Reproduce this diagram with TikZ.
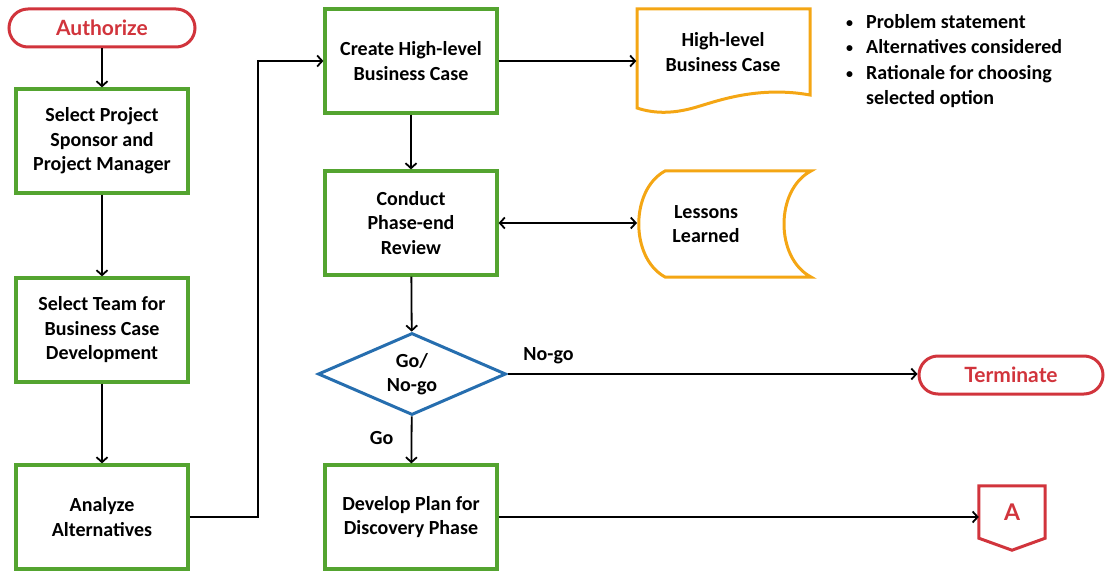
\documentclass[tikz,border=0pt]{standalone}
\usepackage{fontspec}
\setmainfont{Carlito}
\newfontfamily\termfont{Lato}
\usetikzlibrary{arrows.meta,shapes.geometric,calc}
\definecolor{boxgreen}{RGB}{84,164,48}
\definecolor{termred}{RGB}{209,52,60}
\definecolor{docorange}{RGB}{244,166,20}
\definecolor{decblue}{RGB}{38,110,175}
\begin{document}
\begin{tikzpicture}[x=1pt,y=-1pt,
  txt/.style={font=\fontsize{20}{24.5}\selectfont\bfseries, align=center, text=black},
  stepbox/.style={txt, draw=boxgreen, line width=3.2pt, minimum width=172pt, minimum height=104pt, inner sep=0pt},
  term/.style={draw=termred, line width=3pt, text=termred, font=\termfont\fontsize{21}{24}\selectfont\bfseries, rounded corners=19pt, minimum height=38pt, inner sep=0pt},
  decision/.style={txt, diamond, draw=decblue, line width=3pt, aspect=2.3, minimum width=188pt, minimum height=82pt, inner sep=0pt},
  conn/.style={line width=1.8pt, -{Straight Barb[length=5pt,width=11pt,line width=1.8pt]}},
  lbl/.style={txt}
]
\useasboundingbox (0,0) rectangle (1106,572);
% terminators
\node[term, minimum width=186pt] (auth) at (102,28) {Authorize};
\node[term, minimum width=184pt] (termn) at (1011,375) {Terminate};
% process boxes
\node[stepbox] (b1) at (102,141) {Select Project\\Sponsor and\\Project Manager};
\node[stepbox] (b2) at (102,330) {Select Team for\\Business Case\\Development};
\node[stepbox] (b3) at (102,517) {Analyze\\Alternatives};
\node[stepbox] (b4) at (411,61) {Create High-level\\Business Case};
\node[stepbox] (b5) at (411,223) {Conduct\\Phase-end\\Review};
\node[decision] (dec) at (412,374) {Go/\\No-go};
\node[stepbox] (b6) at (411,517) {Develop Plan for\\Discovery Phase};
% document
\node[txt, minimum width=173pt, minimum height=80pt, inner sep=0pt] (doc) at (723,52) {High-level\\Business Case};
\draw[docorange, line width=3pt, line join=miter]
  (637,96) -- (637,9) -- (810,9) -- (810,95)
  .. controls (760,86) and (720,100) .. (700,106)
  .. controls (675,114) and (655,114) .. (637,108) -- cycle;
% stored data
\node[txt, minimum width=120pt, minimum height=80pt, inner sep=0pt] (store) at (706,224) {Lessons\\Learned};
\draw[docorange, line width=3pt]
  (665,171) -- (811,171)
  .. controls (775,190) and (775,258) .. (811,277)
  -- (665,277)
  .. controls (630,258) and (630,190) .. cycle;
\coordinate (storeW) at (637,223);
% off-page connector A
\node[font=\termfont\fontsize{23}{26}\selectfont\bfseries, text=termred, minimum width=66pt, minimum height=52pt, inner sep=0pt] (A) at (1012,512) {A};
\draw[termred, line width=3pt, line join=miter]
  (A.north west) -- (A.north east) -- (A.south east) -- ($(A.south)+(0,12)$) -- (A.south west) -- cycle;
% bullets
\node[txt, align=left, anchor=north west, inner sep=0pt, font=\fontsize{20}{25.5}\selectfont\bfseries] (notes) at (846,14) {%
  \makebox[20pt][l]{\raisebox{1pt}{\scalebox{0.7}{\textbullet}}}Problem statement\\
  \makebox[20pt][l]{\raisebox{1pt}{\scalebox{0.7}{\textbullet}}}Alternatives considered\\
  \makebox[20pt][l]{\raisebox{1pt}{\scalebox{0.7}{\textbullet}}}Rationale for choosing\\
  \hspace*{20pt}selected option};
% connectors
\draw[conn] (auth) -- (b1);
\draw[conn] (b1) -- (b2);
\draw[conn] (b2) -- (b3);
\draw[conn] (b3.east) -- (258,517) |- (b4.west);
\draw[conn] (b4.east) -- (b4.east -| doc.west);
\draw[conn] (b4) -- (b5);
\draw[line width=1.8pt, {Straight Barb[length=5pt,width=11pt,line width=1.8pt]}-{Straight Barb[length=5pt,width=11pt,line width=1.8pt]}] (b5.east) -- (storeW);
\draw[conn] (b5) -- (dec);
\draw[conn] (dec) -- node[lbl, pos=0.45, left=14pt] {Go} (b6);
\draw[conn] (dec.east) -- node[lbl, pos=0.1, above=6pt] {No-go} (dec.east -| termn.west);
\draw[conn] (b6.east) -- (b6.east -| A.west);
\end{tikzpicture}
\end{document}
